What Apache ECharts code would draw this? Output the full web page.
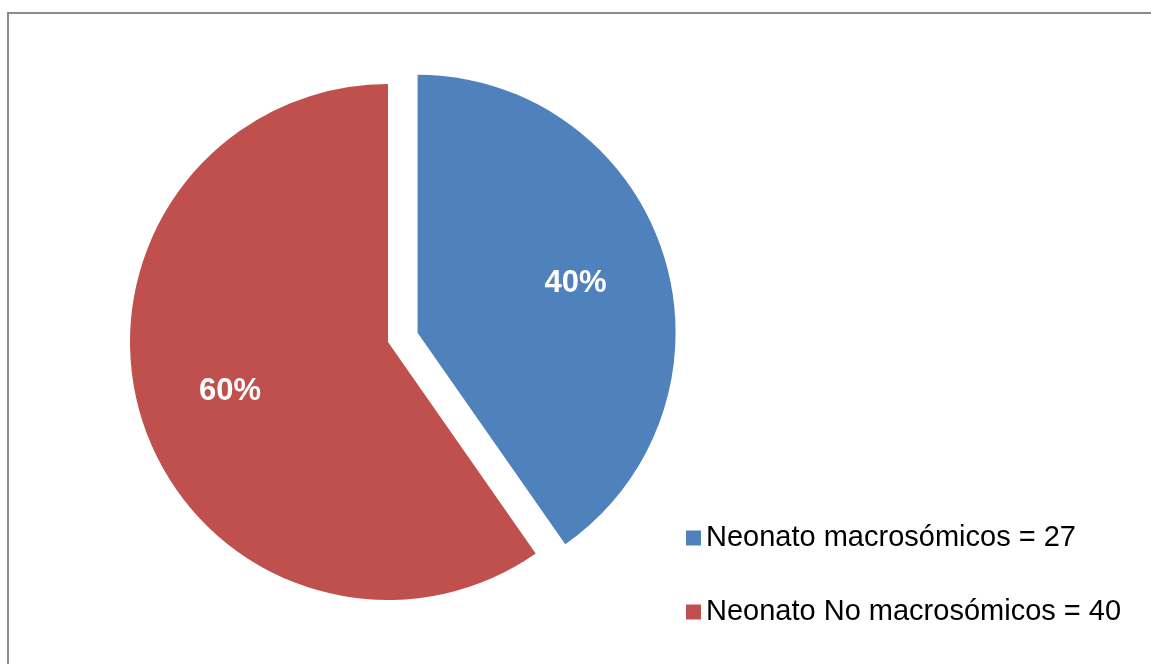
<!DOCTYPE html>
<html>
<head>
<meta charset="utf-8">
<script src="https://cdn.jsdelivr.net/npm/echarts@6/dist/echarts.min.js"></script>
<style>
  html, body { margin: 0; padding: 0; background: #fff; }
  #chart { width: 1151px; height: 664px; }
</style>
</head>
<body>
<div id="chart"></div>
<script>
// Neonates by birth-weight group
const categories = ['Neonato macrosómicos', 'Neonato No macrosómicos'];
const counts = [27, 40];
const colors = ['#4F81BD', '#C0504D'];
const explodedIndex = 0;

const FONT = '"Liberation Sans", Arial, sans-serif';
const pieCenter = [388, 342];
const pieRadius = 258;
const explodeOffset = 31;

const sliceData = categories.map((name, i) => ({
  name: name,
  value: counts[i],
  selected: i === explodedIndex,
  itemStyle: { color: colors[i] }
}));

const chart = echarts.init(document.getElementById('chart'), null, { renderer: 'canvas' });

chart.setOption({
  animation: false,
  backgroundColor: '#ffffff',
  graphic: [{
    type: 'rect',
    silent: true,
    shape: { x: 8, y: 13, width: 1200, height: 700 },
    style: { fill: 'none', stroke: '#8c8c8c', lineWidth: 2 }
  }],
  legend: {
    orient: 'vertical',
    left: 681,
    top: 518,
    icon: 'rect',
    itemWidth: 15,
    itemHeight: 15,
    itemGap: 44,
    selectedMode: false,
    data: categories.map((name, i) => ({
      name: name,
      itemStyle: { color: colors[i] }
    })),
    formatter: function (name) {
      return name + ' = ' + counts[categories.indexOf(name)];
    },
    textStyle: { fontFamily: FONT, fontSize: 29, lineHeight: 30, color: '#000000' }
  },
  series: [
    {
      // the slices
      type: 'pie',
      center: pieCenter,
      radius: pieRadius,
      startAngle: 90,
      clockwise: true,
      selectedMode: 'single',
      selectedOffset: explodeOffset,
      label: { show: false },
      labelLine: { show: false },
      emphasis: { disabled: true },
      data: sliceData
    },
    {
      // percentage labels, placed further out than the default inside position
      type: 'pie',
      silent: true,
      center: pieCenter,
      radius: pieRadius * 1.26,
      startAngle: 90,
      clockwise: true,
      selectedMode: 'single',
      selectedOffset: explodeOffset,
      itemStyle: { color: 'rgba(0,0,0,0)' },
      emphasis: { disabled: true },
      labelLine: { show: false },
      label: {
        show: true,
        position: 'inside',
        formatter: function (p) { return Math.round(p.percent) + '%'; },
        fontFamily: FONT,
        fontWeight: 'bold',
        fontSize: 31,
        color: '#ffffff'
      },
      data: categories.map((name, i) => ({
        name: name,
        value: counts[i],
        selected: i === explodedIndex
      }))
    }
  ]
});
</script>
</body>
</html>
